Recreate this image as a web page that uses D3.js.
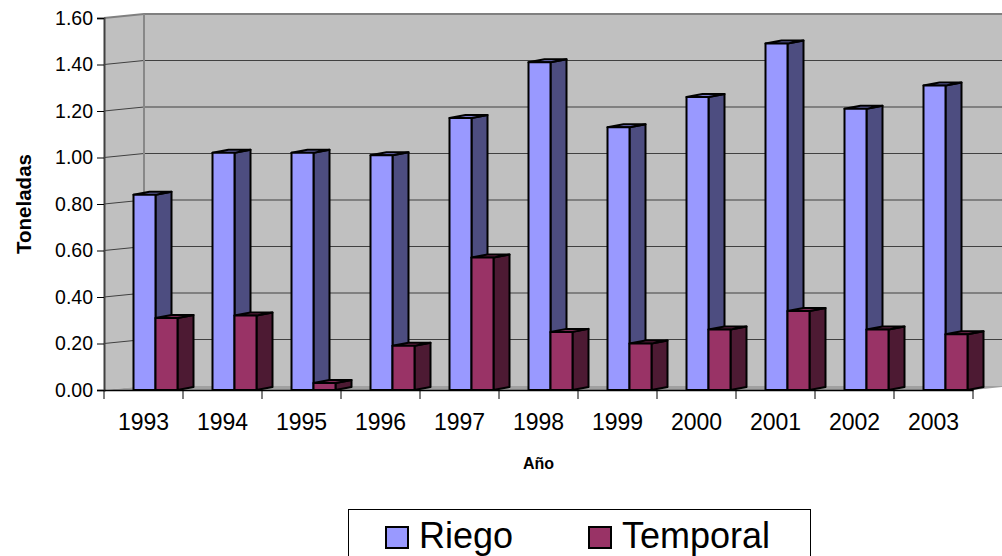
<!DOCTYPE html>
<meta charset="utf-8">
<style>
body { margin: 0; background: #fff; }
svg { display: block; font-family: "Liberation Sans", Arial, sans-serif; }
.grid { stroke: #404040; stroke-width: 1px; fill: none; }
.bar { stroke: #000; stroke-width: 2px; stroke-linejoin: round; }
</style>
<body>
<script src="https://cdn.jsdelivr.net/npm/d3@7"></script>
<script>

// data
var years = ["1993", "1994", "1995", "1996", "1997", "1998", "1999", "2000", "2001", "2002", "2003"];
var riego = [0.84, 1.02, 1.02, 1.01, 1.17, 1.41, 1.13, 1.26, 1.49, 1.21, 1.31];
var temporal = [0.31, 0.32, 0.03, 0.19, 0.57, 0.25, 0.20, 0.26, 0.34, 0.26, 0.24];
var yTicks = [0, 0.2, 0.4, 0.6, 0.8, 1.0, 1.2, 1.4, 1.6];
var seriesNames = ["Riego", "Temporal"];

var width = 1002, height = 556;
var plotL = 104, plotR = 973, plotB = 390, plotT = 18;
var depth = {dx: 40, dy: -4};   // wall depth
var bdepth = {dx: 16, dy: -3};  // bar depth

var colors = {
  Riego: {front: "#9999ff", side: "#4d4d80", top: "#7a7acc"},
  Temporal: {front: "#993366", side: "#4d1a33", top: "#7a2952"}
};

var svg = d3.select("body").append("svg")
    .attr("width", width)
    .attr("height", height);

var y = d3.scaleLinear().domain([0, 1.6]).range([plotB, plotT]);
var x0 = d3.scaleBand().domain(years).range([plotL, plotR]);
var x1 = d3.scaleBand().domain(seriesNames).range([29.5, 73.5]);

function pts(a) { return a.map(function(p) { return p.join(","); }).join(" "); }

// walls and floor
svg.append("polygon")
    .attr("points", pts([[plotL, plotB], [plotL, plotT], [plotL + depth.dx, plotT + depth.dy], [plotL + depth.dx, plotB + depth.dy]]))
    .attr("fill", "#c0c0c0");
svg.append("polygon")
    .attr("points", pts([[plotL + depth.dx, plotT + depth.dy], [plotR + depth.dx, plotT + depth.dy], [plotR + depth.dx, plotB + depth.dy], [plotL + depth.dx, plotB + depth.dy]]))
    .attr("fill", "#c0c0c0");
svg.append("polygon")
    .attr("points", pts([[plotL, plotB], [plotR, plotB], [plotR + depth.dx, plotB + depth.dy], [plotL + depth.dx, plotB + depth.dy]]))
    .attr("fill", "#a0a0a0");

// gridlines on left wall + back wall
svg.selectAll(".grid")
  .data(yTicks.slice(1, -1))
  .enter().append("polyline")
    .attr("class", "grid")
    .attr("points", function(d) {
      var yy = y(d);
      return pts([[plotL, yy], [plotL + depth.dx, yy + depth.dy], [plotR + depth.dx, yy + depth.dy]]);
    });

// wall edges
svg.append("polyline")
    .attr("points", pts([[plotL, plotT], [plotL + depth.dx, plotT + depth.dy], [plotR + depth.dx, plotT + depth.dy]]))
    .attr("fill", "none").attr("stroke", "#808080").attr("stroke-width", 2);
svg.append("line")
    .attr("x1", plotL + depth.dx).attr("x2", plotL + depth.dx)
    .attr("y1", plotT + depth.dy).attr("y2", plotB + depth.dy)
    .attr("stroke", "#888").attr("stroke-width", 2);

// bars
var data = [];
years.forEach(function(yr, i) {
  data.push({year: yr, key: "Riego", value: riego[i]});
  data.push({year: yr, key: "Temporal", value: temporal[i]});
});

var bar = svg.selectAll(".bargrp")
  .data(data)
  .enter().append("g");

bar.each(function(d) {
  var g = d3.select(this);
  var xa = x0(d.year) + x1(d.key), xb = xa + x1.bandwidth();
  var yt = y(d.value);
  var c = colors[d.key];
  g.append("polygon").attr("class", "bar")
      .attr("points", pts([[xb, yt], [xb + bdepth.dx, yt + bdepth.dy], [xb + bdepth.dx, plotB + bdepth.dy], [xb, plotB]]))
      .attr("fill", c.side);
  g.append("polygon").attr("class", "bar")
      .attr("points", pts([[xa, yt], [xa + bdepth.dx, yt + bdepth.dy], [xb + bdepth.dx, yt + bdepth.dy], [xb, yt]]))
      .attr("fill", c.top);
  g.append("rect").attr("class", "bar")
      .attr("x", xa).attr("y", yt)
      .attr("width", xb - xa).attr("height", plotB - yt)
      .attr("fill", c.front);
});

// y axis
var yAxis = d3.axisLeft(y)
    .tickValues(yTicks)
    .tickSize(7)
    .tickPadding(4)
    .tickFormat(d3.format(".2f"));
var gy = svg.append("g")
    .attr("transform", "translate(" + plotL + ",0)")
    .call(yAxis);
gy.select(".domain").attr("stroke", "#404040").attr("stroke-width", 2);
gy.selectAll(".tick line").attr("stroke", "#000");
gy.selectAll("text").attr("font-size", 19.5).attr("fill", "#000")
    .attr("font-family", "Liberation Sans, Arial, sans-serif");

// x axis
var xAxis = d3.axisBottom(x0).tickSize(0).tickPadding(24);
var gx = svg.append("g")
    .attr("transform", "translate(0," + plotB + ")")
    .call(xAxis);
gx.select(".domain").attr("stroke", "#000").attr("stroke-width", 1.5);
gx.selectAll("text").attr("font-size", 23).attr("fill", "#000")
    .attr("font-family", "Liberation Sans, Arial, sans-serif");
// ticks between categories
svg.selectAll(".xtick")
  .data(years.concat(["end"]))
  .enter().append("line")
    .attr("x1", function(d, i) { return i < years.length ? x0(d) : plotR; })
    .attr("x2", function(d, i) { return i < years.length ? x0(d) : plotR; })
    .attr("y1", plotB).attr("y2", plotB + 9)
    .attr("stroke", "#000");

// axis titles
svg.append("text")
    .attr("x", (plotL + plotR) / 2).attr("y", 469)
    .attr("text-anchor", "middle")
    .attr("font-size", 16).attr("font-weight", "bold")
    .text("Año");
svg.append("text")
    .attr("transform", "translate(31,204) rotate(-90)")
    .attr("text-anchor", "middle")
    .attr("font-size", 20.5).attr("font-weight", "bold")
    .text("Toneladas");

// legend
var legend = svg.append("g");
legend.append("rect")
    .attr("x", 348.5).attr("y", 509.5)
    .attr("width", 462).attr("height", 70)
    .attr("fill", "#fff").attr("stroke", "#000");
var lx = [386, 589];
seriesNames.forEach(function(s, i) {
  legend.append("rect")
      .attr("x", lx[i]).attr("y", 527)
      .attr("width", 22).attr("height", 21)
      .attr("fill", colors[s].front).attr("stroke", "#000").attr("stroke-width", 2);
  legend.append("text")
      .attr("x", lx[i] + 33).attr("y", 548)
      .attr("font-size", 36)
      .text(s);
});

</script>
</body>
